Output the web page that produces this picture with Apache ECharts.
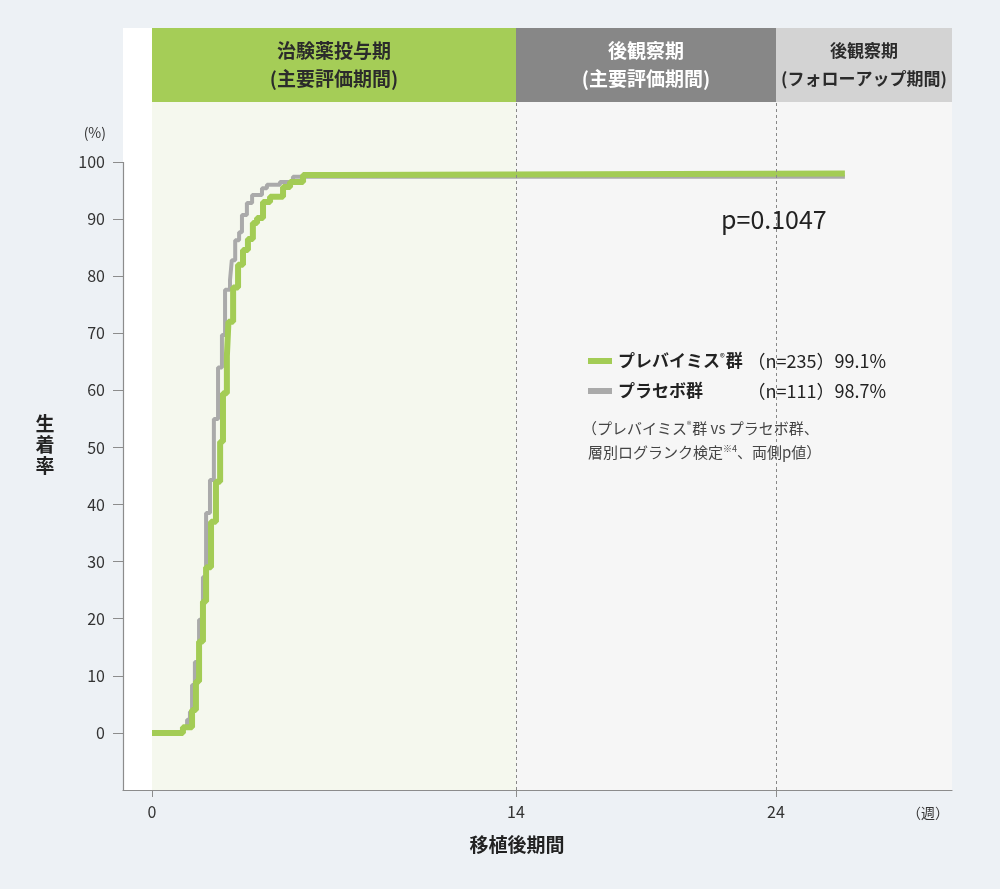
<!DOCTYPE html>
<html>
<head>
<meta charset="utf-8">
<title>生着率</title>
<script src="https://cdn.jsdelivr.net/npm/echarts@6/dist/echarts.min.js"></script>
<style>
    html, body { margin: 0; padding: 0; background: #edf1f5; }
    #main { width: 1000px; height: 889px; }
</style>
</head>
<body>
<div id="main"></div>
<script>
// プレバイミス群 (週, 生着率%)
var weeksDrug = [0, 1.19, 1.54, 1.69, 1.81, 1.96, 2.08, 2.27, 2.46, 2.62, 2.73, 2.88, 2.94, 3.12, 3.31, 3.50, 3.69, 3.88, 4.04, 4.27, 4.54, 5.04, 5.31, 5.81, 7.12, 26.65];
var rateDrug = [0, 1, 4, 9, 16, 23, 29, 37, 44, 51, 59.5, 66, 72, 78, 82, 84.6, 86.5, 89.3, 90.2, 93, 93.9, 95.6, 96.5, 97.7, 98, 98];
// プラセボ群
var weeksPlacebo = [0, 1.19, 1.35, 1.46, 1.54, 1.65, 1.81, 1.96, 2.08, 2.23, 2.38, 2.54, 2.69, 2.81, 3.00, 3.07, 3.20, 3.35, 3.46, 3.65, 3.85, 4.23, 4.42, 4.92, 5.42, 26.65];
var ratePlacebo = [0, 1, 2.3, 3.7, 8.4, 12.4, 19.8, 27.3, 38.5, 44.3, 55, 64, 69.7, 77.6, 79.3, 82.8, 86.3, 87.7, 90.7, 92.8, 94.2, 95.4, 96, 96.5, 97.4, 97.4];

var xTicks = [0, 14, 24];
var yTicks = [0, 10, 20, 30, 40, 50, 60, 70, 80, 90, 100];

var phaseNames = ['治験薬投与期\n(主要評価期間)', '後観察期\n(主要評価期間)', '後観察期\n(フォローアップ期間)'];
var phaseStart = [0, 14, 24];
var phaseEnd = [14, 24, null];

var XMIN = -29 / 26, XMAX = 800 / 26;
var YMIN = -10, YMAX = 100 + 134 / 5.71, HEAD = 100 + 60 / 5.71;
var FONT = "'Noto Sans CJK JP', 'Noto Sans', sans-serif";

var chart = echarts.init(document.getElementById('main'));

var pairs = function(xs, ys) {
    var out = [];
    for (var i = 0; i < xs.length; i++) {
        out.push([xs[i], ys[i]]);
    }
    return out;
};

var headColors = ['#a5cd57', '#878787', '#d3d3d3'];
var headText = ['#2b2b2b', '#ffffff', '#2b2b2b'];
var headSize = [19, 19, 17];
var shadeColors = ['#f5f8ee', '#f6f6f6', '#f6f6f6'];

var areas = [];
for (var i = 0; i < phaseNames.length; i++) {
    var end = phaseEnd[i] == null ? XMAX : phaseEnd[i];
    areas.push([{ xAxis: phaseStart[i], yAxis: YMIN, itemStyle: { color: shadeColors[i] } },
                { xAxis: end, yAxis: HEAD }]);
    areas.push([{
        name: phaseNames[i], xAxis: phaseStart[i], yAxis: HEAD,
        itemStyle: { color: headColors[i] },
        label: { color: headText[i], fontSize: headSize[i] }
    }, { xAxis: end, yAxis: YMAX }]);
}

var dashLines = [];
for (var j = 1; j < phaseStart.length; j++) {
    dashLines.push([{ coord: [phaseStart[j], YMIN] }, { coord: [phaseStart[j], HEAD] }]);
}
// y軸の線は100までしか引かない
var axisSeg = [{ coord: [XMIN, YMIN], lineStyle: { type: 'solid', color: '#8c8c8c', width: 1.2 } }, { coord: [XMIN, 100] }];

var txt = function(x, y, text, size, opts) {
    var style = { text: text, fontSize: size, fontFamily: FONT, fill: '#333', textVerticalAlign: 'middle' };
    for (var k in opts) {
        if (opts.hasOwnProperty(k)) style[k] = opts[k];
    }
    return { type: 'text', x: x, y: y, z: 100, style: style };
};

var option = {
    backgroundColor: '#edf1f5',
    animation: false,
    grid: {
        left: 123, right: 48, top: 28, bottom: 99,
        show: true, backgroundColor: '#ffffff', borderWidth: 0
    },
    xAxis: {
        type: 'value', min: XMIN, max: XMAX,
        splitLine: { show: false },
        axisLine: { onZero: false, lineStyle: { color: '#8c8c8c', width: 1.2 } },
        axisTick: { customValues: xTicks, length: 7, lineStyle: { color: '#8c8c8c' } },
        axisLabel: { customValues: xTicks, margin: 14, color: '#333', fontSize: 16, fontFamily: FONT }
    },
    yAxis: {
        type: 'value', min: YMIN, max: YMAX,
        splitLine: { show: false },
        axisLine: { show: false, onZero: false },
        axisTick: { customValues: yTicks, length: 10, lineStyle: { color: '#8c8c8c' } },
        axisLabel: { customValues: yTicks, margin: 18, color: '#333', fontSize: 16, fontFamily: FONT }
    },
    series: [{
        name: 'bg', type: 'line', data: [], z: 1, silent: true,
        markArea: {
            silent: true,
            label: { show: true, position: 'inside', fontSize: 19, fontWeight: 'bold', lineHeight: 28, fontFamily: FONT },
            data: areas
        },
        markLine: {
            silent: true, symbol: 'none',
            label: { show: false },
            lineStyle: { type: [3, 3], color: '#888888', width: 1 },
            data: dashLines.concat([axisSeg])
        }
    }, {
        name: 'プラセボ群', type: 'line', step: 'end', showSymbol: false, z: 3,
        lineStyle: { color: '#aaaaaa', width: 4 },
        data: pairs(weeksPlacebo, ratePlacebo)
    }, {
        name: 'プレバイミス群', type: 'line', step: 'end', showSymbol: false, z: 4,
        lineStyle: { color: '#a3cc55', width: 6 },
        data: pairs(weeksDrug, rateDrug)
    }],
    graphic: [
        txt(106, 133, '(%)', 14, { textAlign: 'right' }),
        txt(45, 445, '生\n着\n率', 19, { fontWeight: 'bold', lineHeight: 21, fill: '#222', textAlign: 'center' }),
        txt(517, 845, '移植後期間', 19, { fontWeight: 'bold', fill: '#222', textAlign: 'center' }),
        txt(928, 813, '（週）', 14, { textAlign: 'center' }),
        txt(721, 219, 'p=0.1047', 25, { fill: '#222' }),
        { type: 'line', z: 100, shape: { x1: 588, y1: 361, x2: 612, y2: 361 }, style: { stroke: '#a3cc55', lineWidth: 6 } },
        { type: 'line', z: 100, shape: { x1: 588, y1: 391, x2: 612, y2: 391 }, style: { stroke: '#aaaaaa', lineWidth: 6 } },
        txt(618, 361, '{a|プレバイミス}{s|®}{a|群}', 17, {
            rich: { a: { fontSize: 17, fontWeight: 'bold', fontFamily: FONT, fill: '#222' }, s: { fontSize: 10, fontFamily: FONT, fill: '#222', padding: [0, 1, 8, 0] } }
        }),
        txt(618, 391, 'プラセボ群', 17, { fontWeight: 'bold', fill: '#222' }),
        txt(886, 361, '（n=235）99.1%', 18, { fill: '#222', textAlign: 'right' }),
        txt(886, 391, '（n=111）98.7%', 18, { fill: '#222', textAlign: 'right' }),
        txt(582, 428, '{a|（プレバイミス}{s|®}{a|群 vs プラセボ群、}', 15, {
            rich: { a: { fontSize: 15, fontFamily: FONT, fill: '#444' }, s: { fontSize: 9, fontFamily: FONT, fill: '#444', padding: [0, 1, 7, 0] } }
        }),
        txt(588, 452, '{a|層別ログランク検定}{s|※4}{a|、両側p値）}', 15, {
            rich: { a: { fontSize: 15, fontFamily: FONT, fill: '#444' }, s: { fontSize: 9, fontFamily: FONT, fill: '#444', padding: [0, 0, 7, 0] } }
        })
    ]
};

chart.setOption(option);
window.addEventListener('resize', function() {
    chart.resize();
});
</script>
</body>
</html>
